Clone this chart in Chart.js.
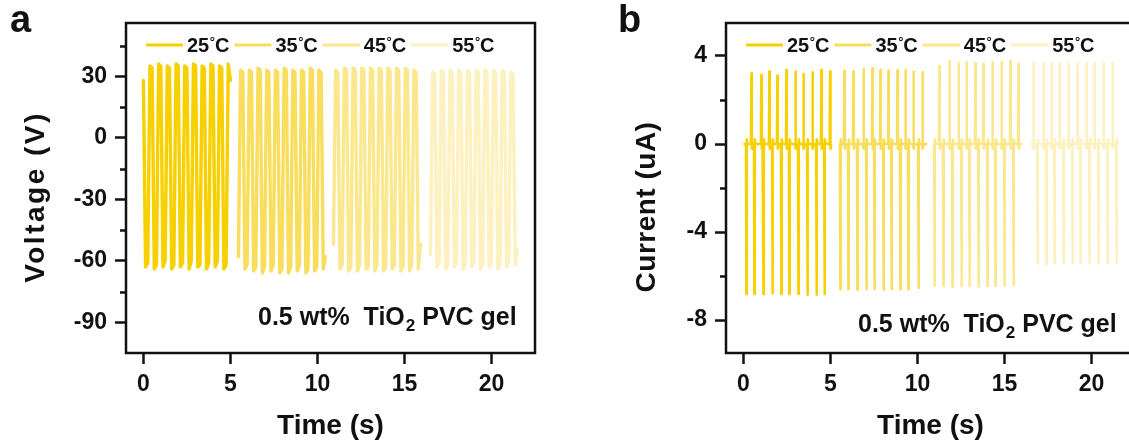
<!DOCTYPE html>
<html>
<head>
<meta charset="utf-8">
<script src="https://cdn.jsdelivr.net/npm/chart.js@4.4.1/dist/chart.umd.min.js"></script>
<style>
  html, body { margin: 0; padding: 0; background: #fff; overflow: hidden; }
  #wrap { position: relative; width: 1129px; height: 448px; overflow: hidden; }
  canvas { position: absolute; top: 0; }
  #chartA { left: 0; }
  #chartB { left: 600px; }
</style>
</head>
<body>
<div id="wrap">
  <canvas id="chartA" width="565" height="448"></canvas>
  <canvas id="chartB" width="565" height="448"></canvas>
</div>
<script>
// ---- data ----
const temps = ["25", "35", "45", "55"];
const colors = ["#F7D000", "#F9DD5C", "#FBE88E", "#FDF1BF"];

const timeTicks = [0, 5, 10, 15, 20];
const voltageTicks = [-90, -60, -30, 0, 30];
const voltageMinor = [-75, -45, -15, 15, 45];
const currentTicks = [-8, -4, 0, 4];
const currentMinor = [-6, -2, 2];

// voltage samples, one every 0.125 s from the segment start
const timeStep = 0.125;
const voltageStarts = [0, 5.46, 10.92, 16.49];
const voltage25 = [28,
  -63, -61, 35, 34, -64, -62, 36, 35, -63, -60, 35, 34, -64, -62, 36, 35, -63, -61, 35, 34,
  -64, -60, 36, 35, -63, -62, 35, 34, -64, -61, 36, 35, -63, -60, 35, 34, -64, -62, 36, 28];
const voltage35 = [-58,
  33, 32, -64, -62, 33, 32, -65, -63, 34, 33, -66, -63, 33, 32, -65, -62, 33, 32, -66, -64,
  34, 33, -66, -63, 33, 32, -65, -62, 33, 32, -66, -64, 34, 33, -65, -63, 33, 32, -64, -58];
const voltage45 = [-52,
  33, 32, -64, -62, 34, 33, -65, -63, 34, 33, -65, -62, 34, 33, -64, -63, 34, 33, -65, -62,
  34, 33, -65, -63, 34, 33, -64, -62, 34, 33, -65, -63, 34, 33, -65, -62, 33, 32, -64, -52];
const voltage55 = [-57,
  32, 31, -63, -61, 33, 32, -64, -62, 33, 32, -63, -61, 33, 32, -64, -62, 33, 32, -63, -61,
  33, 32, -64, -62, 33, 32, -63, -61, 33, 32, -64, -62, 33, 32, -63, -61, 32, 31, -62, -55];

// current: baseline span, spike times (s) and peak values (uA)
const currentSpans = [[0, 5.05], [5.46, 10.57], [10.92, 16.03], [16.49, 21.49]];
const posTimes25 = [0.46, 1.03, 1.49, 1.95, 2.47, 2.99, 3.45, 3.97, 4.48, 4.98];
const posVals25 = [3.21, 3.15, 3.29, 3.10, 3.36, 3.30, 3.18, 3.26, 3.36, 3.29];
const negTimes25 = [0.17, 0.63, 1.15, 1.67, 2.18, 2.64, 3.16, 3.68, 4.20, 4.66];
const negVals25 = [-6.82, -6.82, -6.82, -6.80, -6.82, -6.82, -6.82, -6.85, -6.85, -6.82];
const posTimes35 = [5.80, 6.32, 6.90, 7.41, 7.87, 8.33, 8.85, 9.31, 9.77, 10.29];
const posVals35 = [3.33, 3.29, 3.41, 3.44, 3.38, 3.33, 3.36, 3.36, 3.30, 3.26];
const negTimes35 = [5.57, 6.03, 6.55, 7.07, 7.53, 8.05, 8.51, 9.02, 9.48, 10.06];
const negVals35 = [-6.6, -6.6, -6.62, -6.6, -6.6, -6.62, -6.6, -6.6, -6.6, -6.55];
const posTimes45 = [11.26, 11.84, 12.36, 12.82, 13.33, 13.79, 14.31, 14.83, 15.34, 15.80];
const posVals45 = [3.55, 3.77, 3.68, 3.73, 3.68, 3.64, 3.73, 3.73, 3.77, 3.64];
const negTimes45 = [10.98, 11.49, 12.01, 12.53, 12.99, 13.51, 14.02, 14.48, 15.00, 15.52];
const negVals45 = [-6.44, -6.44, -6.48, -6.44, -6.44, -6.48, -6.44, -6.44, -6.44, -6.40];
const posTimes55 = [16.67, 17.24, 17.70, 18.16, 18.68, 19.20, 19.71, 20.17, 20.69, 21.21];
const posVals55 = [3.71, 3.67, 3.67, 3.67, 3.67, 3.67, 3.67, 3.67, 3.67, 3.71];
const negTimes55 = [16.90, 17.41, 17.87, 18.39, 18.91, 19.37, 19.89, 20.40, 20.92, 21.44];
const negVals55 = [-5.44, -5.44, -5.40, -5.42, -5.42, -5.42, -5.38, -5.42, -5.42, -5.42];

const FONT = "'Liberation Sans', Arial, Helvetica, sans-serif";
const INK = "#111";

function voltagePoints(start, values) {
    return values.map(function (v, i) { return { x: start + i * timeStep, y: v }; });
}

function spikePoints(span, posT, posV, negT, negV) {
    let spikes = [];
    for (let i = 0; i < posT.length; i++) spikes.push([posT[i], posV[i]]);
    for (let i = 0; i < negT.length; i++) spikes.push([negT[i], negV[i]]);
    spikes.sort(function (a, b) { return a[0] - b[0]; });
    let pts = [{ x: span[0], y: 0 }];
    spikes.forEach(function (s) {
        const back = s[1] > 0 ? -0.22 : 0.22;
        pts.push({ x: s[0] - 0.025, y: 0 });
        pts.push({ x: s[0], y: s[1] });
        pts.push({ x: s[0] + 0.025, y: back });
        pts.push({ x: s[0] + 0.07, y: 0 });
    });
    pts.push({ x: span[1], y: 0 });
    return pts;
}

// box, minor ticks, legend, y title, note and panel letter
const decorPlugin = {
    id: "decor",
    afterDraw(chart, args, opts) {
        const ctx = chart.ctx;
        const a = chart.chartArea;
        const y = chart.scales.y;
        ctx.save();
        ctx.strokeStyle = INK;
        ctx.lineWidth = 2.5;
        ctx.strokeRect(a.left, a.top, a.right - a.left, a.bottom - a.top);

        opts.minor.forEach(function (v) {
            const py = Math.round(y.getPixelForValue(v)) + 0.5;
            ctx.beginPath();
            ctx.moveTo(a.left - 6, py);
            ctx.lineTo(a.left, py);
            ctx.stroke();
        });

        // legend inside the plot
        ctx.textAlign = "left";
        ctx.textBaseline = "alphabetic";
        let lx = a.left + 20;
        const ly = 45;
        chart.data.datasets.forEach(function (ds) {
            ctx.strokeStyle = ds.borderColor;
            ctx.lineWidth = 3;
            ctx.beginPath();
            ctx.moveTo(lx, ly);
            ctx.lineTo(lx + 37, ly);
            ctx.stroke();
            ctx.fillStyle = INK;
            let tx = lx + 41;
            ctx.font = "bold 20px " + FONT;
            ctx.fillText(ds.label, tx, ly + 7);
            tx += ctx.measureText(ds.label).width + 0.5;
            ctx.font = "bold 13px " + FONT;
            ctx.fillText("°", tx, ly + 1);
            tx += ctx.measureText("°").width;
            ctx.font = "bold 20px " + FONT;
            ctx.fillText("C", tx, ly + 7);
            tx += ctx.measureText("C").width;
            lx = tx + 5;
        });

        // y axis title
        ctx.save();
        ctx.translate(opts.titleX, opts.titleY);
        ctx.rotate(-Math.PI / 2);
        ctx.font = "bold 28px " + FONT;
        ctx.letterSpacing = opts.titleSpacing + "px";
        ctx.textAlign = "center";
        ctx.textBaseline = "middle";
        ctx.fillStyle = INK;
        ctx.fillText(opts.title, 0, 0);
        ctx.restore();

        // sample note
        ctx.textAlign = "left";
        ctx.textBaseline = "alphabetic";
        ctx.fillStyle = INK;
        let nx = opts.noteX;
        const ny = opts.noteY;
        ctx.font = "bold 25px " + FONT;
        ctx.fillText("0.5 wt%  TiO", nx, ny);
        nx += ctx.measureText("0.5 wt%  TiO").width;
        ctx.font = "bold 17px " + FONT;
        ctx.fillText("2", nx + 1, ny + 6);
        nx += ctx.measureText("2").width + 1;
        ctx.font = "bold 25px " + FONT;
        ctx.fillText(" PVC gel", nx, ny);

        ctx.font = "bold 38px " + FONT;
        ctx.fillText(opts.letter, opts.letterX, 32);
        ctx.restore();
    }
};

function makeChart(id, datasets, yMin, yMax, yTicks, decor) {
    return new Chart(document.getElementById(id), {
        type: "scatter",
        data: { datasets: datasets },
        options: {
            responsive: false,
            animation: false,
            devicePixelRatio: 1,
            layout: { padding: { left: 0, top: 23, right: 30, bottom: 0 } },
            plugins: {
                legend: { display: false },
                tooltip: { enabled: false },
                decor: decor
            },
            scales: {
                x: {
                    type: "linear",
                    min: -1, max: 22.5,
                    afterBuildTicks: function (s) { s.ticks = timeTicks.map(function (v) { return { value: v }; }); },
                    afterFit: function (s) { s.height = 95; },
                    border: { display: false },
                    grid: { drawOnChartArea: false, tickLength: 11, tickWidth: 2.5, tickColor: INK },
                    ticks: { color: INK, padding: 7, font: { family: FONT, size: 23, weight: "bold" } },
                    title: { display: true, text: "Time (s)", color: INK, padding: { top: 0, bottom: 5 },
                        font: { family: FONT, size: 28, weight: "bold" } }
                },
                y: {
                    min: yMin, max: yMax,
                    afterBuildTicks: function (s) { s.ticks = yTicks.map(function (v) { return { value: v }; }); },
                    afterFit: function (s) { s.width = 126; },
                    border: { display: false },
                    grid: { drawOnChartArea: false, tickLength: 11, tickWidth: 2.5, tickColor: INK },
                    ticks: { color: INK, padding: 8, font: { family: FONT, size: 23, weight: "bold" } }
                }
            }
        },
        plugins: [decorPlugin]
    });
}

const voltageSeries = [voltage25, voltage35, voltage45, voltage55];
const voltageSets = voltageSeries.map(function (vals, i) {
    return {
        label: temps[i],
        data: voltagePoints(voltageStarts[i], vals),
        showLine: true, borderColor: colors[i], borderWidth: 3.4,
        pointRadius: 0, borderJoinStyle: "round", borderCapStyle: "round"
    };
});

const currentSeries = [
    spikePoints(currentSpans[0], posTimes25, posVals25, negTimes25, negVals25),
    spikePoints(currentSpans[1], posTimes35, posVals35, negTimes35, negVals35),
    spikePoints(currentSpans[2], posTimes45, posVals45, negTimes45, negVals45),
    spikePoints(currentSpans[3], posTimes55, posVals55, negTimes55, negVals55)
];
const currentSets = currentSeries.map(function (pts, i) {
    return {
        label: temps[i],
        data: pts,
        showLine: true, borderColor: colors[i], borderWidth: 2.5,
        pointRadius: 0, borderJoinStyle: "round"
    };
});

makeChart("chartA", voltageSets, -105, 56, voltageTicks,
    { minor: voltageMinor, noteX: 258, noteY: 325, letter: "a", letterX: 10,
      title: "Voltage (V)", titleX: 36, titleY: 197, titleSpacing: 2.5 });
makeChart("chartB", currentSets, -9.5, 5.5, currentTicks,
    { minor: currentMinor, noteX: 258, noteY: 332, letter: "b", letterX: 18,
      title: "Current (uA)", titleX: 47, titleY: 207, titleSpacing: 0.5 });
</script>
</body>
</html>
